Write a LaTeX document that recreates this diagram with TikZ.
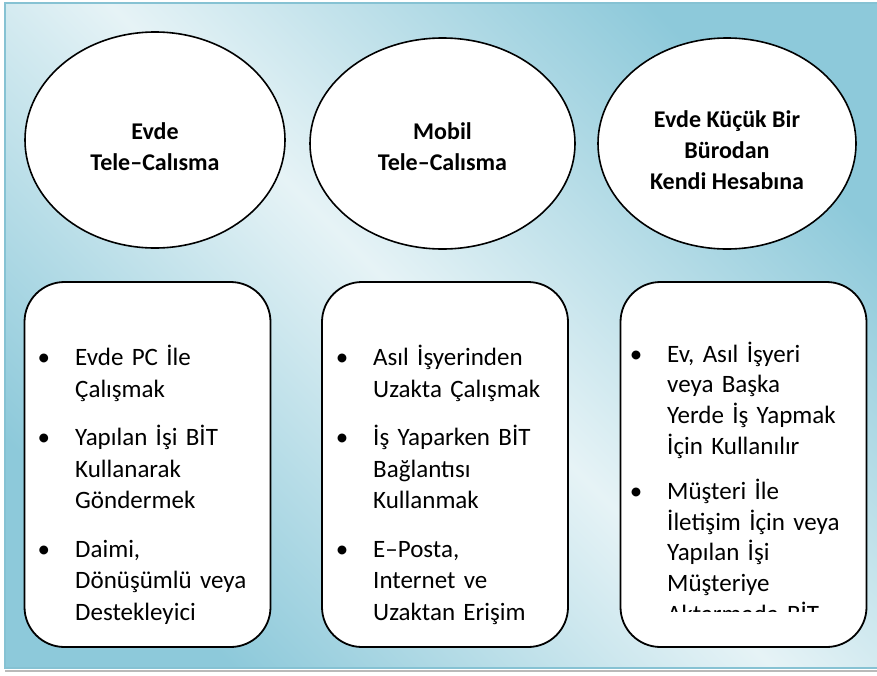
\documentclass[tikz,border=0pt]{standalone}
\usepackage{fontspec}
\setmainfont{Carlito}
\usepackage{enumitem}
\usetikzlibrary{shapes.geometric,positioning}
\setlist[itemize]{label=\textbullet, leftmargin=31pt, labelsep=25pt, topsep=0pt, partopsep=0pt, parsep=0pt, itemsep=17pt}
\definecolor{bgdark}{HTML}{8DC9DA}
\definecolor{bglight}{HTML}{E6F3F6}
\definecolor{frameblue}{HTML}{86C2D3}

\begin{document}
\begin{tikzpicture}[x=1pt, y=-1pt]
  \tikzset{bubble/.style={ellipse, draw=black, line width=1.6pt, fill=white, inner sep=0pt},
    panel/.style={rectangle, rounded corners=40pt, draw=black, line width=1.8pt, fill=white,
      minimum width=246pt, minimum height=365pt},
    headtext/.style={font=\fontsize{24}{31}\selectfont\bfseries, align=center, inner sep=0pt},
    itemtext/.style={font=\fontsize{25}{31.5}\selectfont, text width=250pt, inner sep=0pt,
      anchor=north west, align=left}}
  \useasboundingbox (0,0) rectangle (877,675);

    % background
    \shade[top color=bgdark, bottom color=bgdark, middle color=bglight, shading angle=-45]
      (5,3) rectangle (877,668);
    \draw[frameblue, line width=1.5pt] (877,3) -- (5,3) -- (5,668) -- (877,668);
    \draw[gray!55, line width=2pt] (5,671) -- (877,671);

    % ellipses
    \node[bubble, minimum width=260pt, minimum height=216pt] (tele) at (155,140) {};
    \node[bubble, minimum width=265pt, minimum height=211pt] (mobil) at (442.5,143.5) {};
    \node[bubble, minimum width=258pt, minimum height=211pt] (buro) at (727,143.5) {};
    \node[headtext] (teletext) at ([yshift=-7pt]tele.center) {Evde\\Tele–Calısma};
    \node[headtext] (mobiltext) at ([yshift=-3pt]mobil.center) {Mobil\\Tele–Calısma};
    \node[headtext] (burotext) at ([yshift=-7pt]buro.center) {Evde Küçük Bir\\Bürodan\\Kendi Hesabına};

    % panels
    \node[panel] (evpanel) at (147.5,464.5) {};
    \node[panel] (mobilpanel) at (445,464.5) {};
    \node[panel] (buropanel) at (743.5,464.5) {};

    \node[itemtext] (evlist) at (44,334) {\begin{itemize}
      \item Evde PC İle\\Çalışmak
      \item Yapılan İşi BİT\\Kullanarak\\Göndermek
      \item Daimi,\\Dönüşümlü veya\\Destekleyici
    \end{itemize}};
    \node[itemtext] (mobillist) at (342,334) {\begin{itemize}
      \item Asıl İşyerinden\\Uzakta Çalışmak
      \item İş Yaparken BİT\\Bağlantısı\\Kullanmak
      \item E–Posta,\\Internet ve\\Uzaktan Erişim
    \end{itemize}};
    \begin{scope}
      \clip (620,282) rectangle (867,611);
      \node[itemtext, font=\fontsize{25}{30.8}\selectfont] (burolist) at (636,331) {\begin{itemize}[itemsep=14pt]
        \item Ev, Asıl İşyeri\\veya Başka\\Yerde İş Yapmak\\İçin Kullanılır
        \item Müşteri İle\\İletişim İçin veya\\Yapılan İşi\\Müşteriye\\Aktarmada BİT
      \end{itemize}};
    \end{scope}
\end{tikzpicture}
\end{document}
